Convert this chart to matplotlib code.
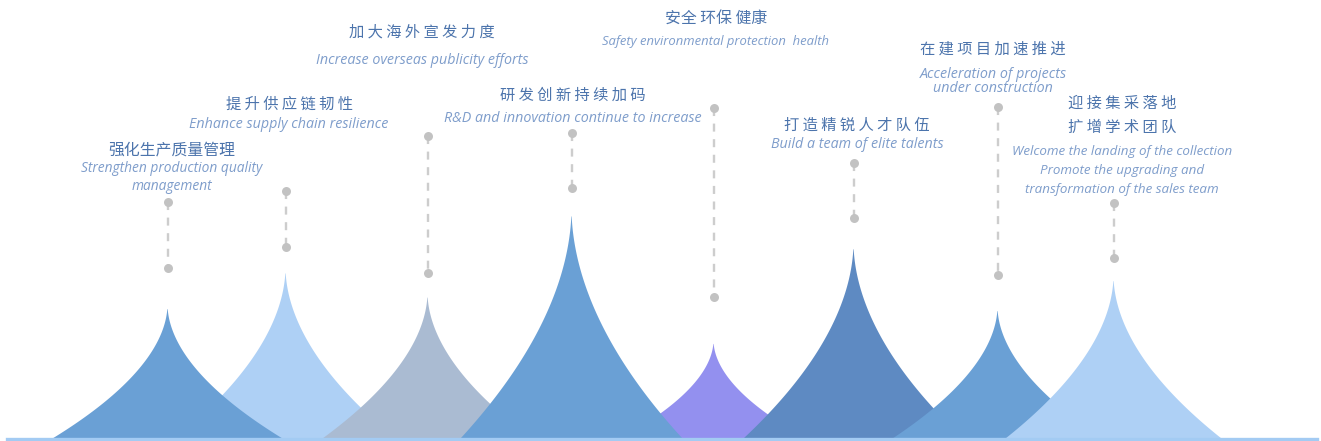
import numpy as np
import matplotlib
matplotlib.use("Agg")
import matplotlib.pyplot as plt

# chart data
titles_cn = ["强化生产质量管理", "提升供应链韧性", "加大海外宣发力度", "研发创新持续加码",
             "安全 环保 健康", "打造精锐人才队伍", "在建项目加速推进", "迎接集采落地\n扩增学术团队"]
titles_en = ["Strengthen production quality\nmanagement",
             "Enhance supply chain resilience",
             "Increase overseas publicity efforts",
             "R&D and innovation continue to increase",
             "Safety environmental protection  health",
             "Build a team of elite talents",
             "Acceleration of projects\nunder construction",
             "Welcome the landing of the collection\nPromote the upgrading and\ntransformation of the sales team"]
peak_values = [134, 171, 146, 230, 98, 196, 132, 163]

# layout (pixels)
W, H, BASE = 1321, 441, 438
centers = [167, 285, 427, 571, 713, 853, 997, 1113]
half_w = [115, 110, 105, 111, 93, 110, 105, 108]
dot_top = [202, 191, 136, 133, 108, 163, 107, 203]
dot_bot = [268, 247, 273, 188, 297, 218, 275, 258]
text_x = [172, 289, 422, 573, 716, 857, 993, 1122]
cn_y = [150, 104, 32, 95, 18, 125, 49, 103]
en_y = [169, 124, 60, 119, 41, 145, 75, 151]
cn_step = [0, 0, 0, 0, 0, 0, 0, 24]
en_step = [18, 0, 0, 0, 0, 0, 14, 19.5]
en_size = [9.9, 10.3, 10.3, 10.3, 9.4, 10.3, 10.3, 9.6]
letter_gap = [False, True, True, True, False, True, True, True]
zorders = [3, 2, 3, 4, 2, 3, 4, 5]
colors = ["#6aa0d5", "#aed0f5", "#aabbd2", "#6aa0d5", "#9390ef", "#5e8ac2", "#6aa0d5", "#aed0f5"]

CN_FONT = ["Noto Sans CJK SC", "DejaVu Sans"]
EN_FONT = ["Open Sans", "DejaVu Sans"]

fig = plt.figure(figsize=(W / 100, H / 100), dpi=100)
ax = fig.add_axes([0, 0, 1, 1])
ax.set_xlim(0, W)
ax.set_ylim(BASE - H, BASE)
ax.axis("off")

# spikes
for i, v in enumerate(peak_values):
    xs = np.linspace(centers[i] - half_w[i], centers[i] + half_w[i], 600)
    depth = (np.abs(xs - centers[i]) / half_w[i]) ** (1 / 1.9)
    ax.fill_between(xs, 0, v * (1 - depth), color=colors[i], lw=0, zorder=zorders[i])

ax.axhline(-1.2, xmin=0.005, xmax=0.997, color="#a3cbf3", lw=2.4, zorder=10)

# pins
for i in range(len(peak_values)):
    y0, y1 = BASE - dot_top[i], BASE - dot_bot[i]
    ax.plot([centers[i] + 1, centers[i] + 1], [y0, y1], color="#cdcdcd", lw=1.7,
            linestyle=(0, (3.4, 3.2)), zorder=6)
    ax.scatter([centers[i] + 1] * 2, [y0, y1], s=42, color="#c2c2c2", lw=0, zorder=7)

# labels
for i in range(len(titles_cn)):
    for k, line in enumerate(titles_cn[i].split("\n")):
        txt = " ".join(line) if letter_gap[i] else line
        ax.text(text_x[i], BASE - cn_y[i] - k * cn_step[i], txt, family=CN_FONT,
                fontsize=11 if letter_gap[i] else 11.4, color="#4c74ac",
                ha="center", va="center")
    for k, line in enumerate(titles_en[i].split("\n")):
        ax.text(text_x[i], BASE - en_y[i] - k * en_step[i], line, family=EN_FONT,
                style="italic", fontsize=en_size[i], color="#7e9dcb", ha="center", va="center")

fig.savefig("out.png", dpi=100, facecolor="white")
